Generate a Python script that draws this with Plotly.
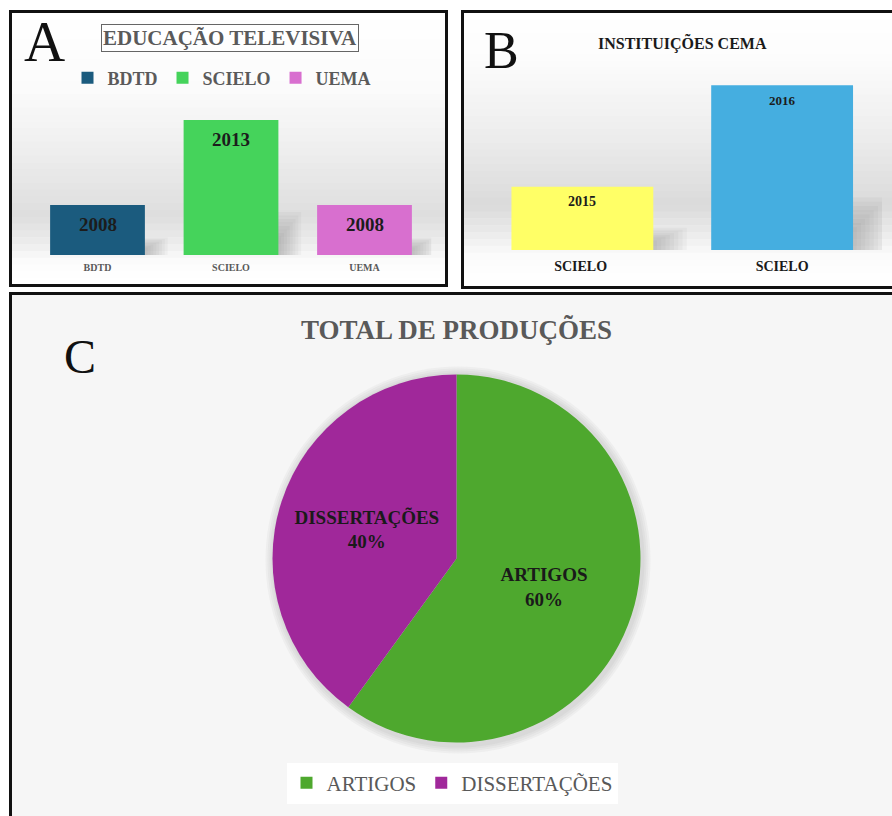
import plotly.graph_objects as go

W, H = 892, 816

# ---------------- data ----------------
a_categories = ["BDTD", "SCIELO", "UEMA"]
a_values = [1.0, 2.7, 1.0]
a_labels = ["2008", "2013", "2008"]
a_colors = ["#1b5b7e", "#45d35b", "#d86fcf"]

b_categories = ["SCIELO ", "SCIELO"]
b_values = [1.0, 2.6]
b_labels = ["2015", "2016"]
b_colors = ["#ffff66", "#45aee0"]

c_labels = ["ARTIGOS", "DISSERTAÇÕES"]
c_values = [60, 40]
c_colors = ["#4ea82e", "#a0289a"]

SERIF = "Liberation Serif"


def px_x(x):
    return x / W


def px_y(y):
    return 1 - y / H


fig = go.Figure()

# ---------------- panel A bars ----------------
for cat, val, col in zip(a_categories, a_values, a_colors):
    fig.add_trace(go.Bar(
        x=[cat], y=[val], name=cat, marker=dict(color=col, line=dict(width=0)),
        xaxis="x", yaxis="y", legend="legend", hoverinfo="skip"))

# ---------------- panel B bars ----------------
fig.add_trace(go.Bar(
    x=b_categories, y=b_values, marker=dict(color=b_colors, line=dict(width=0)),
    xaxis="x2", yaxis="y2", showlegend=False, hoverinfo="skip"))

# ---------------- panel C pie ----------------
PIE_X0, PIE_X1, PIE_Y0, PIE_Y1 = 272.5, 640.5, 374.5, 742.5
fig.add_trace(go.Pie(
    labels=c_labels, values=c_values, marker=dict(colors=c_colors, line=dict(width=0)),
    sort=False, direction="clockwise", rotation=0,
    texttemplate="%{label}<br>%{percent:.0%}", textposition="inside", insidetextorientation="horizontal",
    textfont=dict(family=SERIF, size=19, color="#1a1a1a", weight="bold"),
    domain=dict(x=[px_x(PIE_X0), px_x(PIE_X1)], y=[px_y(PIE_Y1), px_y(PIE_Y0)]),
    legend="legend2", hoverinfo="skip"))

# ---------------- background shapes ----------------
shapes = []


def gradient(x0, x1, y0, y1, stops, n=40):
    step = (y1 - y0) / n
    for i in range(n):
        ya = y0 + i * step
        yb = ya + step + 0.6
        ym = ya + step / 2
        g = stops[-1][1]
        for (s0, g0), (s1, g1) in zip(stops[:-1], stops[1:]):
            if s0 <= ym <= s1:
                t = (ym - s0) / (s1 - s0) if s1 > s0 else 0
                g = g0 + (g1 - g0) * t
                break
        g = int(round(g))
        shapes.append(dict(type="rect", xref="paper", yref="paper", layer="below",
                           x0=px_x(x0), x1=px_x(x1), y0=px_y(yb), y1=px_y(ya),
                           fillcolor=f"rgb({g},{g},{g})", line=dict(width=0)))


gradient(12, 445, 12, 285, [(12, 255), (90, 251), (150, 238), (215, 222), (240, 234), (262, 252), (285, 255)])
gradient(464, 892, 12, 287, [(12, 255), (60, 252), (130, 238), (205, 218), (228, 232), (255, 251), (287, 255)])

shapes.append(dict(type="rect", xref="paper", yref="paper", layer="below",
                   x0=px_x(12), x1=px_x(892), y0=px_y(816), y1=px_y(295),
                   fillcolor="#f6f6f6", line=dict(width=0)))

# soft glow/shadow around the pie
for d in [9, 7, 5, 3]:
    shapes.append(dict(type="circle", xref="paper", yref="paper", layer="below",
                       x0=px_x(PIE_X0 - d + 2), x1=px_x(PIE_X1 + d + 1), y0=px_y(PIE_Y1 + d + 2), y1=px_y(PIE_Y0 - d + 1),
                       fillcolor="rgba(120,120,120,0.06)", line=dict(width=0)))


# soft bar shadows (to the right of each bar, lower part)
def bar_shadows(xref, yref, values, gap):
    half = (1 - gap) / 2
    n = 8
    for i, v in enumerate(values):
        hs = 0.3 * v + 0.05
        for k in range(1, n + 1):
            shapes.append(dict(type="rect", xref=xref, yref=yref, layer="below",
                               x0=i + half - 0.01, x1=i + half + 0.17 * k / n, y0=0.0,
                               y1=hs * (0.35 + 0.65 * k / n),
                               fillcolor="rgba(110,110,110,0.055)", line=dict(width=0)))


bar_shadows("x", "y", a_values, 0.29)
bar_shadows("x2", "y2", b_values, 0.295)

# panel borders
for (x0, y0, x1, y1) in [(10.5, 11.5, 446.5, 285.5), (462.5, 11.5, 896, 287.5), (10.5, 293.5, 896, 820)]:
    shapes.append(dict(type="rect", xref="paper", yref="paper", layer="above",
                       x0=px_x(x0), x1=px_x(x1), y0=px_y(y1), y1=px_y(y0),
                       fillcolor="rgba(0,0,0,0)", line=dict(color="#111111", width=3)))

# ---------------- annotations ----------------
annotations = [
    dict(text="A", x=px_x(44), y=px_y(41), font=dict(family=SERIF, size=57, color="#111111")),
    dict(text="B", x=px_x(502), y=px_y(50), font=dict(family=SERIF, size=52, color="#111111")),
    dict(text="C", x=px_x(80), y=px_y(356), font=dict(family=SERIF, size=48, color="#111111")),
    dict(text="EDUCAÇÃO TELEVISIVA", x=px_x(230), y=px_y(38),
         font=dict(family=SERIF, size=21, color="#5a5a5a", weight="bold"),
         bordercolor="#666666", borderwidth=1, borderpad=1, bgcolor="rgba(255,255,255,0.6)"),
    dict(text="INSTITUIÇÕES CEMA", x=px_x(682), y=px_y(43),
         font=dict(family=SERIF, size=16, color="#1a1a1a", weight="bold")),
    dict(text="TOTAL DE PRODUÇÕES", x=px_x(456), y=px_y(330),
         font=dict(family=SERIF, size=27, color="#595959", weight="bold")),
]
for a in annotations:
    a.update(xref="paper", yref="paper", showarrow=False, xanchor="center", yanchor="middle")

# value labels inside the bars (anchored to the bar tops)
for cat, val, lab in zip(a_categories, a_values, a_labels):
    annotations.append(dict(text=lab, x=cat, y=val, xref="x", yref="y", yshift=-19, showarrow=False,
                            xanchor="center", yanchor="middle",
                            font=dict(family=SERIF, size=19, color="#1c1c1c", weight="bold")))
for cat, val, lab, sz in zip(b_categories, b_values, b_labels, [14, 13]):
    annotations.append(dict(text=lab, x=cat, y=val, xref="x2", yref="y2", yshift=-15, showarrow=False,
                            xanchor="center", yanchor="middle",
                            font=dict(family=SERIF, size=sz, color="#1c1c1c", weight="bold")))

fig.update_layout(
    width=W, height=H, margin=dict(l=0, r=0, t=0, b=0),
    paper_bgcolor="white", plot_bgcolor="rgba(0,0,0,0)",
    barmode="overlay", bargap=0.29,
    shapes=shapes, annotations=annotations,
    xaxis=dict(domain=[px_x(30.75), px_x(431.25)], anchor="y", showgrid=False, zeroline=False,
               showline=False, ticks="", ticklabelstandoff=5, range=[-0.5, len(a_categories) - 0.5],
               tickfont=dict(family=SERIF, size=10, color="#595959", weight="bold"),
               categoryorder="array", categoryarray=a_categories, fixedrange=True),
    yaxis=dict(domain=[px_y(255), px_y(105)], anchor="x", range=[0, 3.0], visible=False, fixedrange=True),
    xaxis2=dict(domain=[px_x(482.5), px_x(882)], anchor="y2", showgrid=False, zeroline=False,
                showline=False, ticks="", ticklabelstandoff=6, range=[-0.5, len(b_categories) - 0.5],
                tickfont=dict(family=SERIF, size=14, color="#1a1a1a", weight="bold"),
                categoryorder="array", categoryarray=b_categories, fixedrange=True),
    yaxis2=dict(domain=[px_y(250), px_y(60)], anchor="x2", range=[0, 3.0], visible=False, fixedrange=True),
    legend=dict(orientation="h", x=px_x(222), y=px_y(78), xanchor="center", yanchor="middle",
                font=dict(family=SERIF, size=18, color="#5a5a5a", weight="bold"),
                bgcolor="rgba(0,0,0,0)", itemclick=False, itemdoubleclick=False, tracegroupgap=0),
    legend2=dict(orientation="h", x=px_x(452), y=px_y(783), xanchor="center", yanchor="middle",
                 font=dict(family=SERIF, size=21, color="#595959"),
                 bgcolor="white", itemclick=False, itemdoubleclick=False),
)

fig.write_html("out.html")
